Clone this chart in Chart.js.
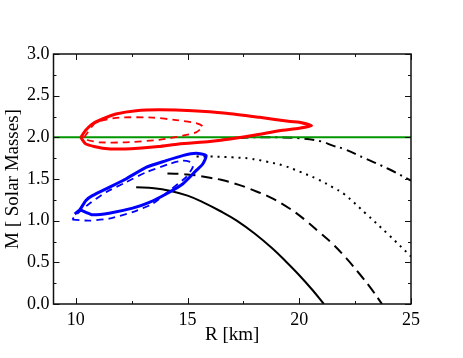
<!DOCTYPE html>
<html>
<head>
<meta charset="utf-8">
<script src="https://cdn.jsdelivr.net/npm/chart.js@4/dist/chart.umd.min.js"></script>
<style>
  body { margin: 0; background: #fff; }
</style>
</head>
<body>
<canvas id="myChart" width="463" height="358"></canvas>
<script>
// tick labels
var xMajor = [10, 15, 20, 25]
var xMinor = [12.5, 17.5, 22.5]
var yMajor = [0, 0.5, 1.0, 1.5, 2.0, 2.5, 3.0]
var yMinor = [0.25, 0.75, 1.25, 1.75, 2.25, 2.75]

// M = 2 reference line
var limitR = [9, 25]
var limitM = [2.0, 2.0]

// mass-radius curves
var solidR = [12.7, 13.5, 14.2, 15.0, 15.7, 16.5, 17.2, 18.0, 18.8, 19.4, 20.0, 20.6, 21.1]
var solidM = [1.40, 1.39, 1.36, 1.30, 1.22, 1.11, 1.00, 0.845, 0.665, 0.51, 0.345, 0.165, 0.0]

var dashR = [14.1, 15.0, 16.0, 16.5, 17.3, 17.8, 18.7, 19.6, 20.3, 20.9, 21.5, 22.1, 22.7, 23.2, 23.7]
var dashM = [1.565, 1.555, 1.515, 1.49, 1.43, 1.38, 1.28, 1.14, 1.00, 0.86, 0.72, 0.55, 0.36, 0.19, 0.0]

var dotR = [15.4, 16.0, 17.0, 17.8, 18.5, 19.3, 20.0, 20.8, 21.5, 22.0, 23.0, 24.0, 25.0]
var dotM = [1.77, 1.77, 1.76, 1.745, 1.71, 1.66, 1.59, 1.50, 1.40, 1.32, 1.08, 0.83, 0.57]

var dashDotR = [16.3, 17.0, 18.0, 19.0, 20.0, 21.0, 21.5, 22.0, 23.0, 24.0, 25.0]
var dashDotM = [1.96, 1.985, 2.0, 2.0, 1.99, 1.95, 1.90, 1.86, 1.74, 1.62, 1.48]

// contours
var redR = [10.22, 10.45, 10.74, 11.19, 11.79, 12.7, 13.74, 15.23, 16.73, 18.22, 19.6, 20.0, 20.55,
            20.0, 19.1, 18.1, 16.9, 16.0, 14.6, 13.7, 12.2, 11.2, 10.45, 10.22]
var redM = [2.00, 2.087, 2.16, 2.22, 2.28, 2.32, 2.33, 2.32, 2.29, 2.24, 2.19, 2.18, 2.14,
            2.11, 2.08, 2.03, 1.98, 1.95, 1.92, 1.89, 1.86, 1.87, 1.92, 2.00]

var redDashR = [10.37, 10.9, 11.94, 13.44, 14.49, 15.38, 15.68, 15.38, 14.78, 13.74, 12.24, 11.05, 10.52, 10.37]
var redDashM = [2.0, 2.178, 2.237, 2.237, 2.207, 2.171, 2.13, 2.059, 2.019, 1.97, 1.94, 1.94, 1.968, 2.0]

var blueR = [9.95, 10.18, 10.45, 10.74, 11.49, 12.24, 13.14, 14.04, 14.78, 15.38, 15.83, 15.68, 15.38,
             14.78, 14.04, 13.29, 12.54, 11.49, 10.74, 10.45, 10.18]
var blueM = [1.08, 1.131, 1.243, 1.30, 1.40, 1.50, 1.64, 1.72, 1.78, 1.808, 1.78, 1.68, 1.60,
             1.44, 1.32, 1.22, 1.15, 1.09, 1.07, 1.10, 1.131]

var blueDashR = [9.85, 10.6, 11.49, 12.54, 13.44, 14.19, 14.93, 15.23, 15.16, 14.78, 14.19, 13.14, 12.24, 11.35, 10.6, 10.15, 9.92, 9.85]
var blueDashM = [1.012, 1.0, 1.024, 1.103, 1.203, 1.362, 1.521, 1.64, 1.70, 1.72, 1.681, 1.58, 1.461, 1.342, 1.203, 1.103, 1.043, 1.012]

function pts(rs, ms) {
    return rs.map(function(r, i) { return {x: r, y: ms[i]} })
}

function line(rs, ms, color, width, dash, tension) {
    return {
        data: pts(rs, ms),
        showLine: true,
        borderColor: color,
        borderWidth: width,
        borderDash: dash,
        pointRadius: 0,
        fill: false,
        tension: tension || 0,
        borderJoinStyle: 'round',
        borderCapStyle: 'butt'
    }
}

var serif = "'Liberation Serif', 'DejaVu Serif', serif"

// inward ticks on all four sides plus the box
var frameTicks = {
    id: 'frameTicks',
    afterDatasetsDraw: function(chart) {
        var ctx = chart.ctx, a = chart.chartArea
        var x = chart.scales.x, y = chart.scales.y
        ctx.save()
        ctx.strokeStyle = '#111'
        ctx.lineWidth = 1
        function tx(v, len) {
            var p = Math.round(x.getPixelForValue(v)) + 0.5
            ctx.beginPath()
            ctx.moveTo(p, a.bottom); ctx.lineTo(p, a.bottom - len)
            ctx.moveTo(p, a.top); ctx.lineTo(p, a.top + len)
            ctx.stroke()
        }
        function ty(v, len) {
            var p = Math.round(y.getPixelForValue(v)) + 0.5
            ctx.beginPath()
            ctx.moveTo(a.left, p); ctx.lineTo(a.left + len, p)
            ctx.moveTo(a.right, p); ctx.lineTo(a.right - len, p)
            ctx.stroke()
        }
        xMajor.forEach(function(v) { tx(v, 6) })
        xMinor.forEach(function(v) { tx(v, 3) })
        yMajor.forEach(function(v) { ty(v, 6) })
        yMinor.forEach(function(v) { ty(v, 3) })
        ctx.lineWidth = 1.5
        ctx.strokeRect(a.left, a.top, a.right - a.left, a.bottom - a.top)
        ctx.restore()
    }
}

var graphData = {
    type: 'scatter',
    data: {
        datasets: [
            line(redR, redM, 'rgb(255,0,0)', 3, [], 0.2),
            line(redDashR, redDashM, 'rgb(255,0,0)', 1.8, [7, 5], 0.2),
            line(blueR, blueM, 'rgb(0,0,255)', 3, [], 0.2),
            line(blueDashR, blueDashM, 'rgb(0,0,255)', 1.8, [7, 5], 0.2),
            line(limitR, limitM, 'rgb(0,150,0)', 2, []),
            line(solidR, solidM, '#000', 2, [], 0.4),
            line(dashR, dashM, '#000', 2, [11, 6], 0.4),
            line(dotR, dotM, '#000', 2, [2, 5], 0.4),
            line(dashDotR, dashDotM, '#000', 2, [10, 5, 2, 5], 0.4)
        ]
    },
    options: {
        responsive: false,
        animation: false,
        layout: { padding: { top: 54, right: 52, left: 0, bottom: 0 } },
        plugins: { legend: { display: false }, tooltip: { enabled: false } },
        scales: {
            x: {
                type: 'linear',
                min: 9, max: 25,
                afterBuildTicks: function(s) { s.ticks = xMajor.map(function(v) { return {value: v} }) },
                afterFit: function(s) { s.height = 54 },
                grid: { display: false, drawTicks: false },
                border: { display: false },
                ticks: { color: '#000', padding: 5, maxRotation: 0, font: { family: serif, size: 18 } },
                title: { display: true, text: 'R [km]', color: '#000', padding: { top: 0, bottom: 12 }, font: { family: serif, size: 19 } }
            },
            y: {
                type: 'linear',
                min: 0, max: 3,
                afterBuildTicks: function(s) { s.ticks = yMajor.map(function(v) { return {value: v} }) },
                afterFit: function(s) { s.width = 53.5 },
                grid: { display: false, drawTicks: false },
                border: { display: false },
                ticks: { color: '#000', padding: 4, font: { family: serif, size: 18 },
                         callback: function(v) { return v.toFixed(1) } },
                title: { display: true, text: 'M [ Solar Masses]', color: '#000', padding: { top: 2, bottom: 0 }, font: { family: serif, size: 19 } }
            }
        }
    },
    plugins: [frameTicks]
}

var ctx = document.getElementById('myChart').getContext('2d')
var myChart = new Chart(ctx, graphData)
</script>
</body>
</html>
